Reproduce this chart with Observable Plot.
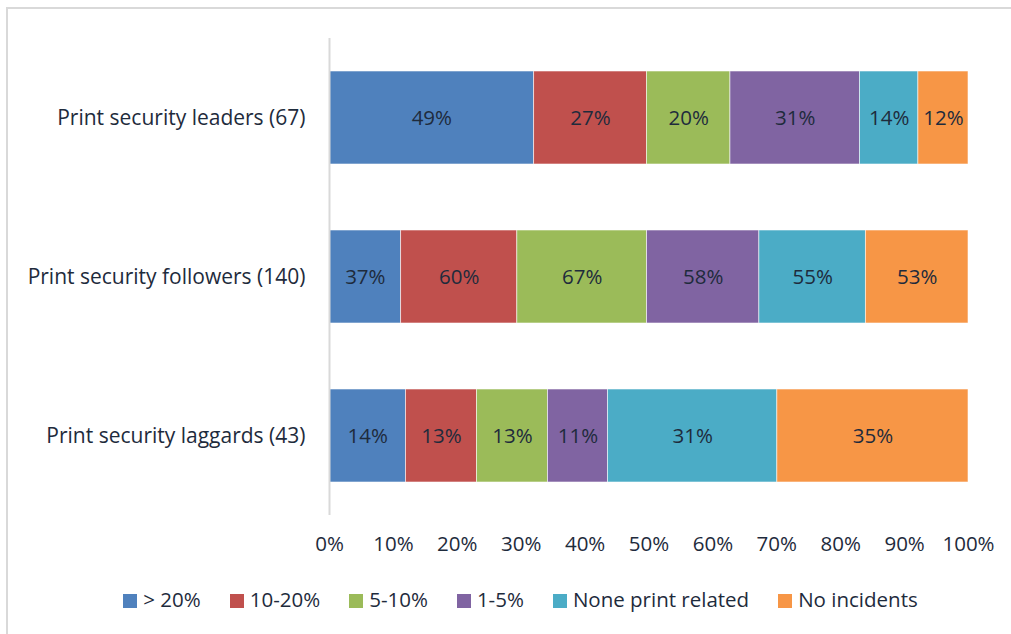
<!DOCTYPE html>
<html><head><meta charset="utf-8">
<script src="https://cdn.jsdelivr.net/npm/d3@7"></script>
<script src="https://cdn.jsdelivr.net/npm/@observablehq/plot@0.6"></script>
<style>
body{margin:0;background:#fff;font-family:"Open Sans",sans-serif;}
#frame{position:absolute;left:6px;top:7px;width:1100px;height:700px;border:2px solid #d9d9d9;box-sizing:border-box;pointer-events:none;}
#chart{position:absolute;left:0;top:0;}
#legend{position:absolute;left:0;top:585px;width:1011px;display:flex;justify-content:center;gap:29px;font-size:20.5px;color:#1e2b3c;padding-left:30px;box-sizing:border-box;}
#legend span.sw{display:inline-block;width:14px;height:14px;margin-right:6px;vertical-align:-1px;}
</style></head><body>
<div id="chart"></div><div id="legend"></div><div id="frame"></div>
<script>
const groups = ["Print security leaders (67)", "Print security followers (140)", "Print security laggards (43)"];
const series = ["> 20%", "10-20%", "5-10%", "1-5%", "None print related", "No incidents"];
const colors = ["#4F81BD", "#C0504D", "#9BBB59", "#8064A2", "#4BACC6", "#F79646"];
const leaders = [49, 27, 20, 31, 14, 12];
const followers = [37, 60, 67, 58, 55, 53];
const laggards = [14, 13, 13, 11, 31, 35];
const xTicks = [0, 0.1, 0.2, 0.3, 0.4, 0.5, 0.6, 0.7, 0.8, 0.9, 1];

const rows = [leaders, followers, laggards];
const data = [];
groups.forEach((g, gi) => series.forEach((s, si) => data.push({group: g, series: s, value: rows[gi][si]})));

const textColor = "#1e2b3c";
const stackOpts = {x: "value", y: "group", z: "series", offset: "normalize", order: series};
const chart = Plot.plot({
  width: 1011, height: 575,
  marginLeft: 329, marginRight: 43, marginTop: 38, marginBottom: 60,
  style: {fontFamily: "'Open Sans', sans-serif", fontSize: "20.5px", color: textColor, background: "transparent"},
  x: {domain: [0, 1], ticks: xTicks, tickFormat: d => Math.round(d * 100) + "%", tickSize: 0, tickPadding: 21, label: null},
  y: {domain: groups, paddingInner: 0.415, paddingOuter: 0.2075, axis: null},
  color: {domain: series, range: colors},
  marks: [
    Plot.barX(data, Plot.stackX({...stackOpts, fill: "series", stroke: "#ffffff", strokeWidth: 0.8, strokeOpacity: 0.7})),
    Plot.text(data, Plot.stackX({...stackOpts, text: d => d.value + "%", fill: textColor, fontSize: 20.5})),
    Plot.axisY({tickSize: 0, tickPadding: 24, fontSize: 21, label: null}),
    Plot.ruleX([0], {stroke: "#d9d9d9", strokeWidth: 2})
  ]
});
document.getElementById("chart").appendChild(chart);

const lg = document.getElementById("legend");
series.forEach((s, i) => {
  const it = document.createElement("div");
  it.innerHTML = `<span class="sw" style="background:${colors[i]}"></span>${s}`;
  lg.appendChild(it);
});
</script>
</body></html>
